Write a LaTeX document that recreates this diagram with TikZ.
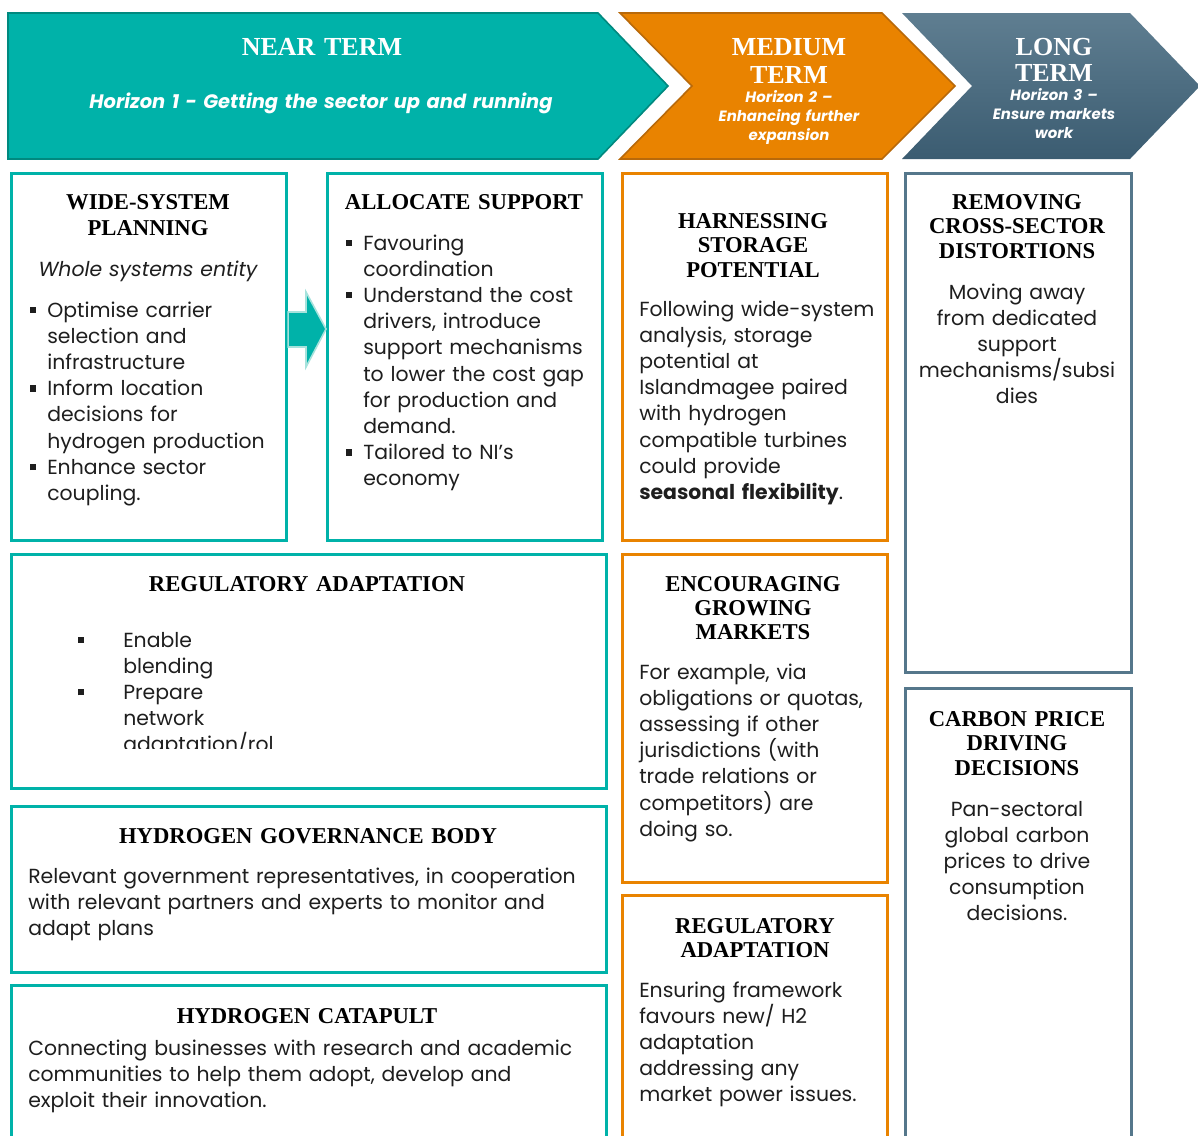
\documentclass[tikz,border=0pt]{standalone}
\usepackage{fontspec}
\setmainfont{Liberation Serif}
\newfontfamily\bodyfont{Poppins}
\usetikzlibrary{shapes.arrows}
\definecolor{tealc}{HTML}{00B2A9}
\definecolor{teald}{HTML}{00897F}
\definecolor{orngc}{HTML}{E98300}
\definecolor{orngd}{HTML}{B8690A}
\definecolor{slatec}{HTML}{55778B}
\definecolor{slatetop}{HTML}{5F7E91}
\definecolor{slatebot}{HTML}{3B5C71}
\definecolor{lteal}{HTML}{A6E2DC}
\definecolor{ink}{HTML}{1E1E1E}
\newcommand{\sqb}{\rule[0.2em]{0.3em}{0.3em}}
\newcommand{\bl}[1][12.75pt]{\makebox[#1][l]{\sqb}}
\newcommand{\ind}[1][12.75pt]{\hspace*{#1}}
\tikzset{
  tbox/.style={draw=tealc, line width=2.3pt, inner sep=0pt, anchor=north west},
  obox/.style={draw=orngc, line width=2.3pt, inner sep=0pt, anchor=north west},
  sbox/.style={draw=slatec, line width=2.3pt, inner sep=0pt, anchor=north west},
  head/.style={font=\bfseries\fontsize{17}{19.5}\selectfont, align=center, anchor=base, inner sep=0pt, text width=200pt, text=black},
  body/.style={font=\bodyfont\fontsize{15.3}{19.65}\selectfont, align=left, anchor=base west, inner sep=0pt, text width=450pt, text=ink},
  cbody/.style={font=\bodyfont\fontsize{15.3}{19.65}\selectfont, align=center, anchor=base, inner sep=0pt, text width=200pt, text=ink},
  hdr/.style={font=\bfseries\fontsize{19.5}{21}\selectfont, text=white, align=center, anchor=base, inner sep=0pt, text width=200pt},
  hsub/.style={font=\bodyfont\bfseries\itshape\fontsize{11.2}{14.3}\selectfont, text=white, align=center, anchor=base, inner sep=0pt, text width=200pt},
}
\begin{document}
\begin{tikzpicture}[x=0.75pt,y=-0.75pt]
\useasboundingbox (0,0) rectangle (1198,1135);
\clip (0,0) rectangle (1198,1135);
\fill[white] (0,0) rectangle (1198,1135);

% header chevrons
\filldraw[fill=tealc, draw=teald, line width=1.2pt] (8,13) -- (598,13) -- (668,86) -- (598,159) -- (8,159) -- cycle;
\filldraw[fill=orngc, draw=orngd, line width=1.2pt] (620,13) -- (882,13) -- (955,86) -- (882,159) -- (620,159) -- (692,86) -- cycle;
\shade[top color=slatetop, bottom color=slatebot] (902,13) -- (1130,13) -- (1200,86) -- (1130,159) -- (902,159) -- (972,86) -- cycle;

\node[hdr] (near) at (322,55) {NEAR TERM};
\node[hsub, text width=500pt, font=\bodyfont\bfseries\itshape\fontsize{14.6}{16}\selectfont] (h1) at (321,108) {Horizon 1 - Getting the sector up and running};
\node[hdr] (med) at (789,55) {MEDIUM\\[0.5pt]TERM};
\node[hsub] (h2) at (789,102) {Horizon 2 –\\Enhancing further\\expansion};
\node[hdr] (long) at (1054,55) {LONG\\[-1pt]TERM};
\node[hsub] (h3) at (1054,100) {Horizon 3 –\\Ensure markets\\work};

% boxes
\node[tbox, minimum width=206.25pt, minimum height=275.25pt] (b1) at (10,172) {};
\node[tbox, minimum width=206.25pt, minimum height=275.25pt] (b2) at (326,172) {};
\node[obox, minimum width=198.75pt, minimum height=275.25pt] (b3) at (621,172) {};
\node[sbox, minimum width=169.5pt, minimum height=374.25pt] (b4) at (904,172) {};
\node[tbox, minimum width=446.25pt, minimum height=175.5pt] (r2) at (10,553) {};
\node[obox, minimum width=198.75pt, minimum height=246pt] (b5) at (621,553) {};
\node[sbox, minimum width=169.5pt, minimum height=345pt] (b6) at (904,687) {};
\node[tbox, minimum width=446.25pt, minimum height=124.5pt] (r3) at (10,805) {};
\node[obox, minimum width=198.75pt, minimum height=195pt] (b7) at (621,894) {};
\node[tbox, minimum width=446.25pt, minimum height=120pt] (r4) at (10,984) {};

% arrow between first two boxes
\filldraw[fill=tealc, draw=lteal, line width=1.2pt] (b1.east |- 0,312) -- (306,312) -- (306,292) -- (b2.west |- 0,329) -- (306,367) -- (306,347) -- (b1.east |- 0,347) -- cycle;

% B1
\node[head] (t1) at (148,209) {WIDE-SYSTEM\\[0.5pt]PLANNING};
\node[cbody, font=\bodyfont\itshape\fontsize{15.3}{19.65}\selectfont] (t1s) at (148,276) {Whole systems entity};
\node[body] (t1b) at (30,317) {\bl Optimise carrier\\\ind selection and\\\ind infrastructure\\\bl Inform location\\\ind decisions for\\\ind hydrogen production\\\bl Enhance sector\\\ind coupling.};

% B2
\node[head, text width=260pt] (t2) at (464,209) {ALLOCATE SUPPORT};
\node[body] (t2b) at (346,250) {\bl Favouring\\\ind coordination\\\bl Understand the cost\\\ind drivers, introduce\\\ind support mechanisms\\\ind to lower the cost gap\\\ind for production and\\\ind demand.\\\bl Tailored to NI’s\\\ind economy};

% B3
\node[head, font=\bfseries\fontsize{17}{18.4}\selectfont] (t3) at (753,228) {HARNESSING\\STORAGE\\POTENTIAL};
\node[body] (t3b) at (639,316) {Following wide-system\\analysis, storage\\potential at\\Islandmagee paired\\with hydrogen\\compatible turbines\\could provide\\\textbf{seasonal flexibility}.};

% B4
\node[head, font=\bfseries\fontsize{17}{18.4}\selectfont] (t4) at (1017,209) {REMOVING\\CROSS-SECTOR\\DISTORTIONS};
\node[cbody] (t4b) at (1017,299) {Moving away\\from dedicated\\support\\mechanisms/subsi\\dies};

% R2
\node[head, text width=400pt] (tr2) at (307,591) {REGULATORY ADAPTATION};
\begin{scope}
\clip (10,553) rectangle (606,748);
\node[body] (tr2b) at (78,647) {\bl[33.75pt]Enable\\\ind[33.75pt]blending\\\bl[33.75pt]Prepare\\\ind[33.75pt]network\\\ind[33.75pt]adaptation/rol};
\end{scope}

% B5
\node[head, font=\bfseries\fontsize{17}{18}\selectfont] (t5) at (753,591) {ENCOURAGING\\GROWING\\MARKETS};
\node[body] (t5b) at (639,679) {For example, via\\obligations or quotas,\\assessing if other\\jurisdictions (with\\trade relations or\\competitors) are\\doing so.};

% B6
\node[head, font=\bfseries\fontsize{17}{18.4}\selectfont] (t6) at (1017,726) {CARBON PRICE\\DRIVING\\DECISIONS};
\node[cbody] (t6b) at (1017,816) {Pan-sectoral\\global carbon\\prices to drive\\consumption\\decisions.};

% R3
\node[head, text width=400pt] (tr3) at (308,843) {HYDROGEN GOVERNANCE BODY};
\node[body] (tr3b) at (28,883) {Relevant government representatives, in cooperation\\with relevant partners and experts to monitor and\\adapt plans};

% B7
\node[head, font=\bfseries\fontsize{17}{18}\selectfont] (t7) at (755,933) {REGULATORY\\ADAPTATION};
\node[body] (t7b) at (639,997) {Ensuring framework\\favours new/ H2\\adaptation\\addressing any\\market power issues.};

% R4
\node[head, text width=400pt] (tr4) at (307,1023) {HYDROGEN CATAPULT};
\node[body] (tr4b) at (28,1055) {Connecting businesses with research and academic\\communities to help them adopt, develop and\\exploit their innovation.};
\end{tikzpicture}
\end{document}
